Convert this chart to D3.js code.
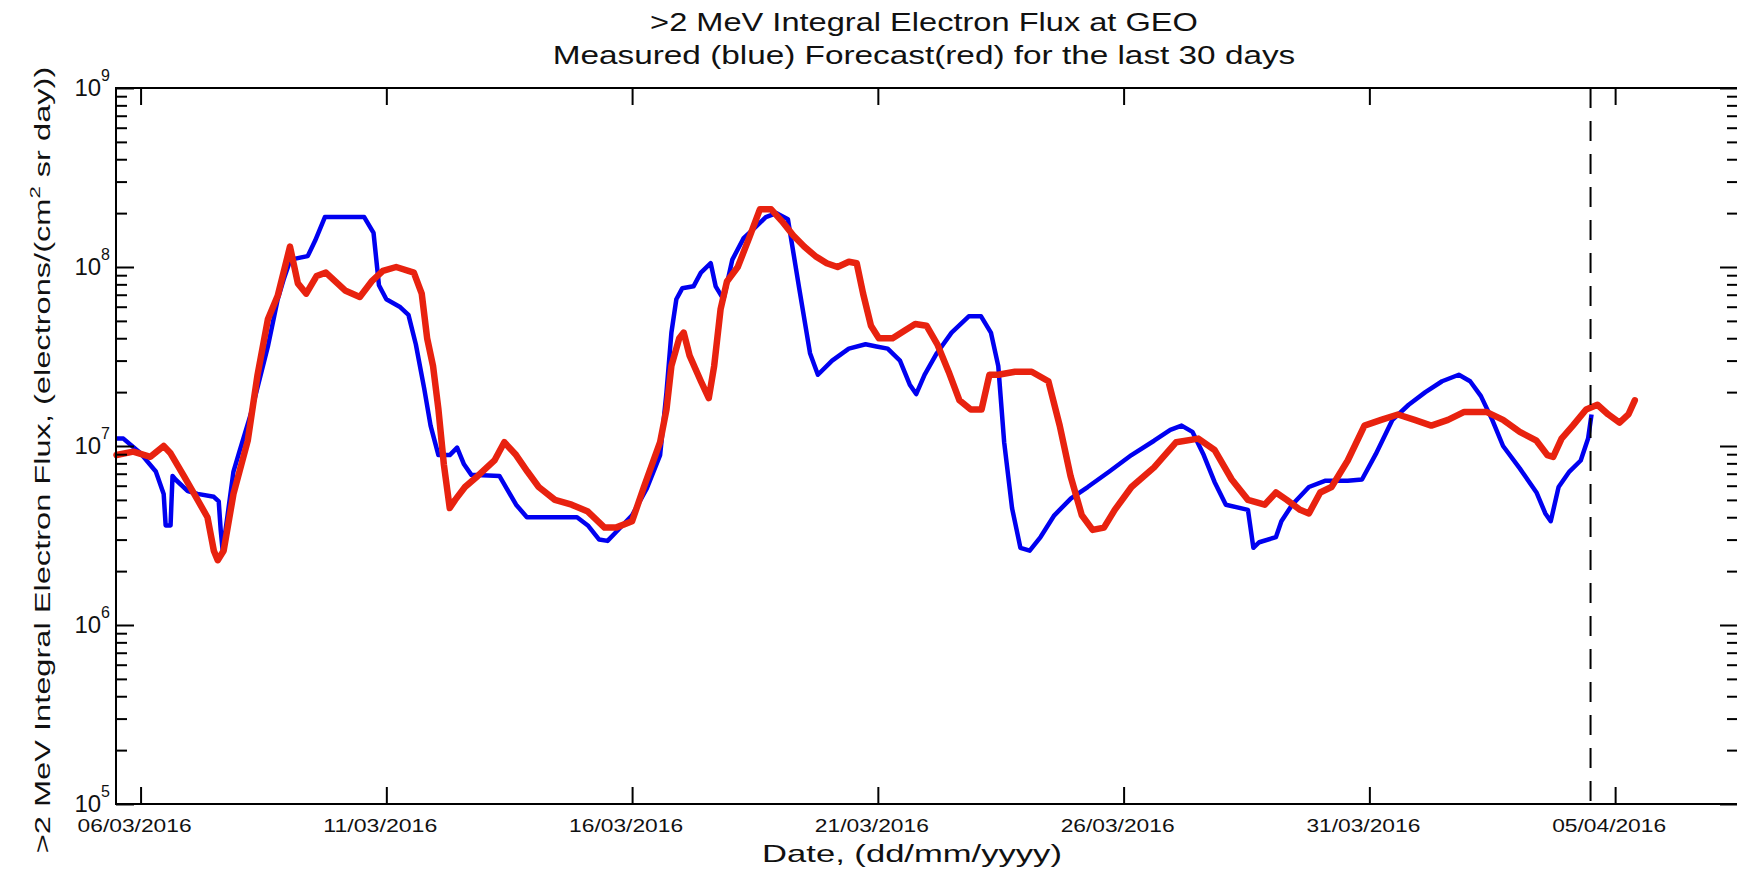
<!DOCTYPE html>
<html lang="en">
<head>
    <meta charset="UTF-8">
    <title>&gt;2 MeV Integral Electron Flux at GEO</title>
    <style>
        body {
            margin: 0;
            background-color: #FFFFFF;
        }
        svg {
            display: block;
            font-family: "Liberation Sans", Arial, Helvetica, sans-serif;
        }
    </style>
</head>
<body>
    <div id="chart"></div>

    <script src="https://d3js.org/d3.v7.min.js"></script>
    <script>
        // Days are counted from 06/03/2016 00:00 UT
        const measuredDay = [-0.49, -0.35, 0.0, 0.31, 0.47, 0.51, 0.61, 0.65, 0.71, 0.96, 1.16, 1.49, 1.59, 1.63, 1.67, 1.77, 1.89, 2.0, 2.24, 2.59, 2.79, 2.91, 3.05, 3.4, 3.55, 3.75, 4.55, 4.74, 4.85, 5.0, 5.27, 5.45, 5.6, 5.77, 5.9, 6.06, 6.29, 6.44, 6.58, 6.73, 7.3, 7.64, 7.86, 8.88, 9.1, 9.33, 9.5, 9.67, 10.0, 10.3, 10.57, 10.7, 10.8, 10.9, 11.02, 11.25, 11.4, 11.6, 11.7, 11.86, 12.04, 12.27, 12.5, 12.72, 12.94, 13.17, 13.4, 13.62, 13.78, 14.07, 14.41, 14.75, 14.97, 15.2, 15.45, 15.65, 15.78, 15.95, 16.2, 16.5, 16.85, 17.1, 17.3, 17.45, 17.57, 17.73, 17.9, 18.09, 18.31, 18.59, 18.93, 19.27, 19.71, 20.16, 20.62, 20.95, 21.18, 21.4, 21.63, 21.85, 22.08, 22.53, 22.64, 22.76, 23.1, 23.21, 23.43, 23.77, 24.11, 24.56, 24.85, 25.13, 25.47, 25.8, 26.14, 26.48, 26.82, 27.05, 27.27, 27.5, 27.72, 28.06, 28.4, 28.58, 28.69, 28.85, 29.07, 29.3, 29.45, 29.52];
        const measuredFlux = [1.1e7, 1.1e7, 9.1e6, 7.2e6, 5.4e6, 3.6e6, 3.6e6, 6.8e6, 6.5e6, 5.6e6, 5.4e6, 5.2e6, 4.9e6, 3.4e6, 2.6e6, 4.1e6, 7.2e6, 9.1e6, 1.5e7, 3.6e7, 6.6e7, 8.5e7, 1.1e8, 1.15e8, 1.4e8, 1.9e8, 1.9e8, 1.55e8, 7.9e7, 6.6e7, 6.0e7, 5.4e7, 3.7e7, 2.1e7, 1.3e7, 8.9e6, 8.9e6, 9.8e6, 7.9e6, 6.9e6, 6.8e6, 4.7e6, 4.0e6, 4.0e6, 3.6e6, 3.0e6, 2.95e6, 3.3e6, 4.1e6, 5.8e6, 8.9e6, 2.0e7, 4.3e7, 6.6e7, 7.6e7, 7.8e7, 9.3e7, 1.05e8, 7.8e7, 6.6e7, 1.1e8, 1.45e8, 1.66e8, 1.9e8, 2.0e8, 1.85e8, 7.6e7, 3.3e7, 2.5e7, 3.0e7, 3.5e7, 3.7e7, 3.6e7, 3.5e7, 3.0e7, 2.2e7, 1.95e7, 2.5e7, 3.3e7, 4.3e7, 5.3e7, 5.3e7, 4.3e7, 2.8e7, 1.05e7, 4.5e6, 2.7e6, 2.6e6, 3.1e6, 4.1e6, 5.1e6, 5.9e6, 7.2e6, 8.9e6, 1.07e7, 1.23e7, 1.3e7, 1.2e7, 8.9e6, 6.3e6, 4.7e6, 4.4e6, 2.7e6, 2.9e6, 3.1e6, 3.8e6, 4.7e6, 5.9e6, 6.4e6, 6.4e6, 6.5e6, 9.0e6, 1.4e7, 1.7e7, 2.0e7, 2.3e7, 2.5e7, 2.3e7, 1.9e7, 1.4e7, 1.0e7, 7.5e6, 5.5e6, 4.2e6, 3.8e6, 5.9e6, 7.2e6, 8.3e6, 1.1e7, 1.5e7];

        const forecastDay = [-0.49, -0.15, 0.2, 0.47, 0.61, 0.88, 1.16, 1.36, 1.49, 1.57, 1.69, 1.89, 2.18, 2.38, 2.59, 2.79, 3.04, 3.2, 3.37, 3.58, 3.77, 4.16, 4.46, 4.7, 4.93, 5.2, 5.56, 5.72, 5.83, 5.95, 6.06, 6.17, 6.29, 6.4, 6.6, 6.86, 7.2, 7.4, 7.64, 7.87, 8.1, 8.43, 8.77, 9.1, 9.44, 9.67, 10.0, 10.24, 10.57, 10.7, 10.8, 10.96, 11.05, 11.17, 11.4, 11.56, 11.67, 11.8, 11.93, 12.15, 12.38, 12.6, 12.83, 13.05, 13.28, 13.5, 13.73, 13.96, 14.18, 14.41, 14.57, 14.7, 14.86, 15.02, 15.3, 15.54, 15.76, 15.99, 16.21, 16.44, 16.66, 16.89, 17.11, 17.27, 17.45, 17.79, 18.13, 18.47, 18.7, 18.92, 19.15, 19.37, 19.6, 19.82, 20.16, 20.62, 21.07, 21.52, 21.85, 22.2, 22.53, 22.87, 23.1, 23.32, 23.59, 23.77, 24.0, 24.23, 24.56, 24.9, 25.24, 25.58, 25.92, 26.26, 26.6, 26.93, 27.38, 27.72, 28.06, 28.4, 28.62, 28.74, 28.91, 29.14, 29.41, 29.64, 29.86, 30.09, 30.27, 30.4];
        const forecastFlux = [8.9e6, 9.3e6, 8.7e6, 1.0e7, 9.1e6, 6.8e6, 5.0e6, 4.0e6, 2.6e6, 2.3e6, 2.6e6, 5.4e6, 1.07e7, 2.5e7, 5.1e7, 6.9e7, 1.3e8, 8.1e7, 7.1e7, 8.9e7, 9.3e7, 7.4e7, 6.8e7, 8.3e7, 9.5e7, 1.0e8, 9.3e7, 7.1e7, 4.0e7, 2.8e7, 1.6e7, 7.9e6, 4.5e6, 5.0e6, 5.9e6, 6.8e6, 8.3e6, 1.05e7, 8.9e6, 7.2e6, 5.9e6, 5.0e6, 4.7e6, 4.3e6, 3.5e6, 3.5e6, 3.8e6, 5.9e6, 1.05e7, 1.6e7, 2.8e7, 4.0e7, 4.3e7, 3.2e7, 2.3e7, 1.85e7, 2.8e7, 5.8e7, 8.3e7, 1.0e8, 1.45e8, 2.1e8, 2.1e8, 1.8e8, 1.5e8, 1.3e8, 1.15e8, 1.05e8, 1.0e8, 1.07e8, 1.05e8, 7.1e7, 4.7e7, 4.0e7, 4.0e7, 4.4e7, 4.8e7, 4.7e7, 3.7e7, 2.6e7, 1.8e7, 1.6e7, 1.6e7, 2.5e7, 2.5e7, 2.6e7, 2.6e7, 2.3e7, 1.3e7, 6.8e6, 4.1e6, 3.4e6, 3.5e6, 4.4e6, 5.9e6, 7.6e6, 1.05e7, 1.1e7, 9.5e6, 6.5e6, 5.0e6, 4.7e6, 5.5e6, 5.0e6, 4.4e6, 4.2e6, 5.5e6, 5.9e6, 8.3e6, 1.3e7, 1.4e7, 1.5e7, 1.4e7, 1.3e7, 1.4e7, 1.55e7, 1.55e7, 1.4e7, 1.2e7, 1.07e7, 8.9e6, 8.7e6, 1.1e7, 1.3e7, 1.6e7, 1.7e7, 1.5e7, 1.35e7, 1.5e7, 1.8e7];

        const xTickLabels = ["06/03/2016", "11/03/2016", "16/03/2016", "21/03/2016", "26/03/2016", "31/03/2016", "05/04/2016"];
        const yTickPowers = [5, 6, 7, 8, 9];
        const nowDay = 29.5;   // dashed line: end of measurements

        const titleLines = [">2 MeV Integral Electron Flux at GEO", "Measured (blue) Forecast(red) for the last 30 days"];

        const width = 1737;
        const height = 884;
        const plot = { left: 116, right: 1738, top: 88, bottom: 804 };

        const start = Date.UTC(2016, 2, 6);
        const toDate = d => new Date(start + d * 864e5);
        const parseLabel = d3.utcParse("%d/%m/%Y");

        const svg = d3.select("#chart")
            .append("svg")
            .attr("width", width)
            .attr("height", height);

        const x = d3.scaleUtc()
            .domain([toDate(-0.5), toDate(32.5)])
            .range([plot.left, plot.right]);

        const y = d3.scaleLog()
            .domain([1e5, 1e9])
            .range([plot.bottom, plot.top]);

        // stretch a text horizontally so it covers the given width
        function stretch(textSel, targetWidth) {
            const w = textSel.node().getBBox().width;
            textSel.attr("transform", `scale(${targetWidth / w},1)`);
        }

        // Data lines
        const line = d3.line()
            .x(d => x(toDate(d[0])))
            .y(d => y(d[1]));

        svg.append("path")
            .datum(d3.zip(measuredDay, measuredFlux))
            .attr("fill", "none")
            .attr("stroke", "#0000F0")
            .attr("stroke-width", 4.5)
            .attr("stroke-linejoin", "round")
            .attr("d", line);

        svg.append("path")
            .datum(d3.zip(forecastDay, forecastFlux))
            .attr("fill", "none")
            .attr("stroke", "#E8220F")
            .attr("stroke-width", 6.5)
            .attr("stroke-linejoin", "round")
            .attr("stroke-linecap", "round")
            .attr("d", line);

        // "now" marker
        svg.append("line")
            .attr("x1", x(toDate(nowDay)))
            .attr("x2", x(toDate(nowDay)))
            .attr("y1", plot.top)
            .attr("y2", plot.bottom)
            .attr("stroke", "#000")
            .attr("stroke-width", 2)
            .attr("stroke-dasharray", "20,13");

        // Axes box
        svg.append("rect")
            .attr("x", plot.left)
            .attr("y", plot.top)
            .attr("width", plot.right - plot.left)
            .attr("height", plot.bottom - plot.top)
            .attr("fill", "none")
            .attr("stroke", "#000")
            .attr("stroke-width", 2);

        // x ticks, inward on top and bottom
        const xTicks = xTickLabels.map(parseLabel);
        const xAxisBottom = d3.axisBottom(x).tickValues(xTicks).tickSize(-17).tickFormat("");
        const xAxisTop = d3.axisTop(x).tickValues(xTicks).tickSize(-17).tickFormat("");
        svg.append("g").attr("transform", `translate(0,${plot.bottom})`).call(xAxisBottom);
        svg.append("g").attr("transform", `translate(0,${plot.top})`).call(xAxisTop);

        // y ticks (log scale: majors at decades, minors 2..9)
        const yMinor = [];
        yTickPowers.slice(0, -1).forEach(p => {
            for (let k = 2; k <= 9; k++) yMinor.push(k * Math.pow(10, p));
        });
        const yMajor = yTickPowers.map(p => Math.pow(10, p));
        [[d3.axisLeft, plot.left], [d3.axisRight, plot.right]].forEach(([axis, pos]) => {
            svg.append("g").attr("transform", `translate(${pos},0)`)
                .call(axis(y).tickValues(yMajor).tickSize(-18).tickFormat(""));
            svg.append("g").attr("transform", `translate(${pos},0)`)
                .call(axis(y).tickValues(yMinor).tickSize(-11).tickFormat(""));
        });
        svg.selectAll(".domain").remove();
        svg.selectAll(".tick line").attr("stroke", "#000").attr("stroke-width", 2);

        // y tick labels 10^n
        yTickPowers.forEach(p => {
            const t = svg.append("text")
                .attr("x", 110)
                .attr("y", y(Math.pow(10, p)) + 8)
                .attr("text-anchor", "end")
                .attr("font-size", 24)
                .attr("fill", "#111");
            t.append("tspan").text("10");
            t.append("tspan").attr("dy", -15).attr("font-size", 16).text(p);
        });

        // x tick labels
        xTickLabels.forEach((lab, i) => {
            const g = svg.append("g")
                .attr("transform", `translate(${x(xTicks[i]) - 6},832)`);
            const t = g.append("text")
                .attr("text-anchor", "middle")
                .attr("font-size", 19)
                .attr("fill", "#111")
                .text(lab);
            stretch(t, 114);
        });

        // x axis title
        const gx = svg.append("g").attr("transform", "translate(912,862)");
        const tx = gx.append("text")
            .attr("text-anchor", "middle")
            .attr("font-size", 24)
            .attr("fill", "#111")
            .text("Date, (dd/mm/yyyy)");
        stretch(tx, 300);

        // y axis title
        const gy = svg.append("g").attr("transform", "translate(50,460) rotate(-90)");
        const ty = gy.append("text")
            .attr("text-anchor", "middle")
            .attr("font-size", 22)
            .attr("fill", "#111");
        ty.append("tspan").text(">2 MeV Integral Electron Flux, (electrons/(cm");
        ty.append("tspan").attr("dy", -10).attr("font-size", 15).text("2");
        ty.append("tspan").attr("dy", 10).text(" sr day))");
        stretch(ty, 787);

        // chart title
        const titleWidths = [548, 743];
        titleLines.forEach((txt, i) => {
            const g = svg.append("g").attr("transform", `translate(924,${31 + i * 33})`);
            const t = g.append("text")
                .attr("text-anchor", "middle")
                .attr("font-size", 26)
                .attr("fill", "#111")
                .text(txt);
            stretch(t, titleWidths[i]);
        });
    </script>
</body>
</html>
